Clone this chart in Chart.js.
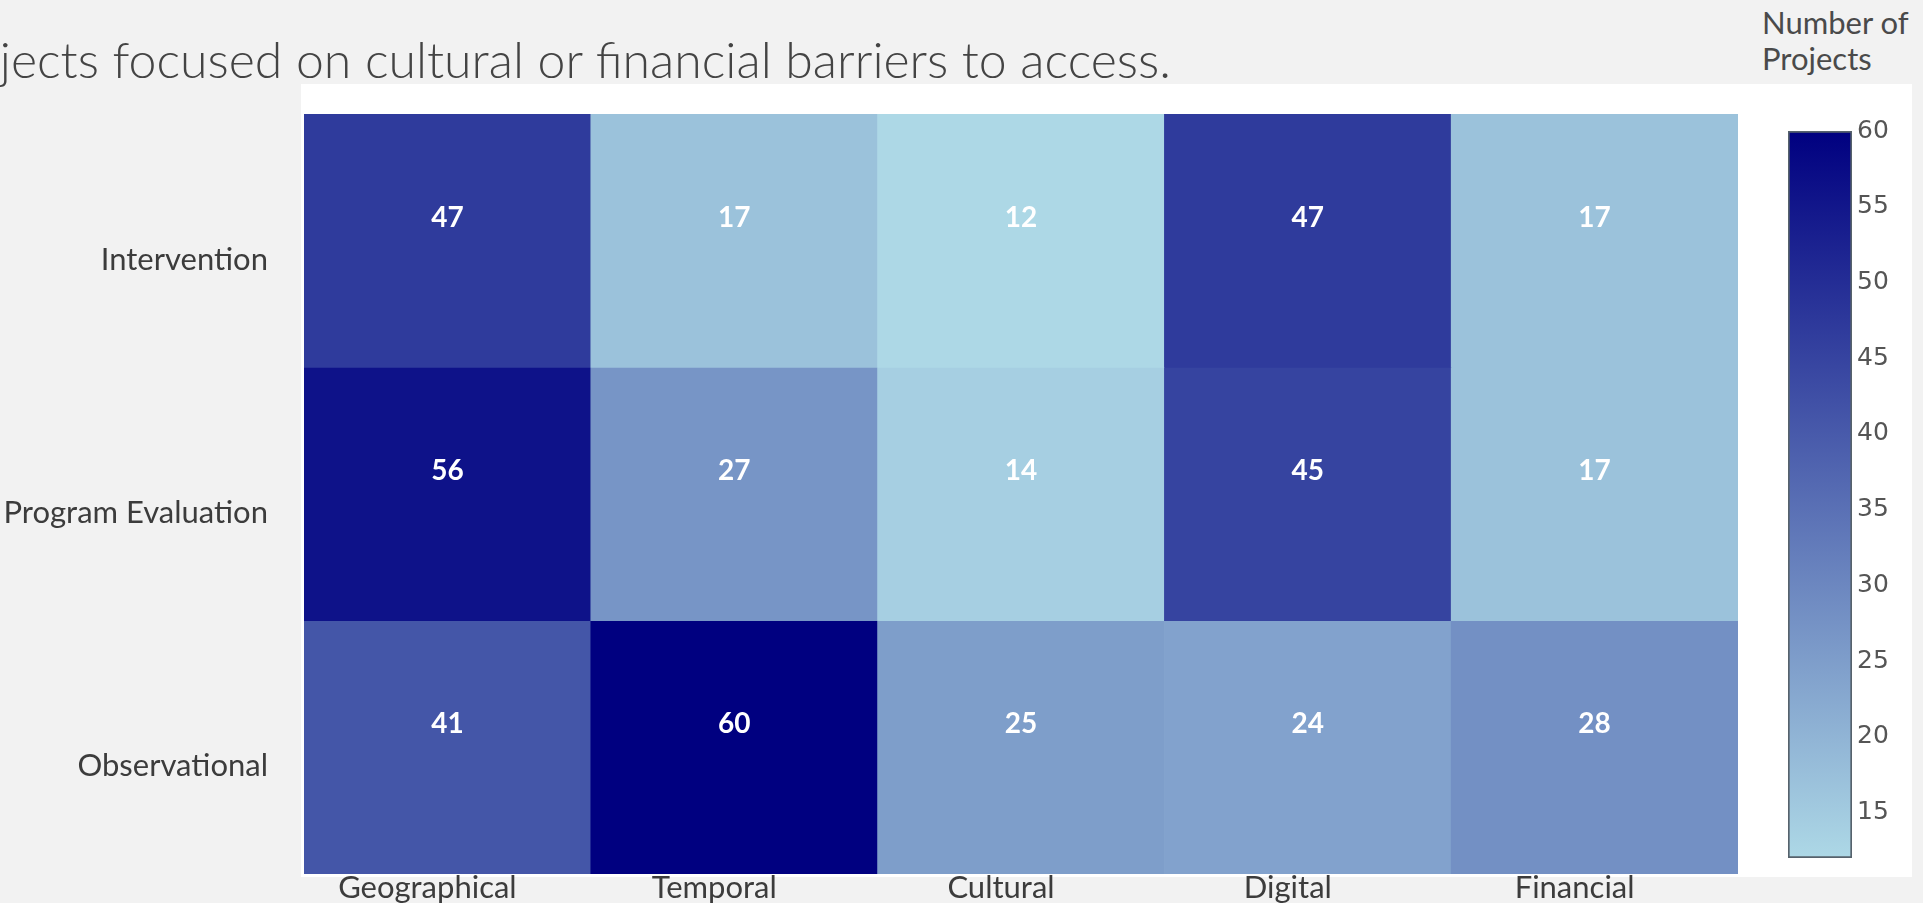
<!DOCTYPE html>
<html>
<head>
<meta charset="utf-8">
<title>Projects by barrier type</title>
<script src="https://cdn.jsdelivr.net/npm/chart.js@4.4.1/dist/chart.umd.min.js"></script>
<style>
  html, body { margin: 0; padding: 0; background: #f2f2f2; overflow: hidden; }
  body { width: 1923px; height: 903px; position: relative; }
  #panel { position: absolute; left: 301px; top: 84px; width: 1611px; height: 793px; background: #fff; }
  #title {
    position: absolute; right: 752px; top: 34px; white-space: nowrap; text-align: right;
    font-family: Lato, 'Open Sans', sans-serif; font-weight: 300; font-size: 50px; line-height: 50px; color: #444;
  }
  #cbTitle {
    position: absolute; left: 1762px; top: 4px;
    font-family: Lato, 'Open Sans', sans-serif; font-size: 31px; line-height: 36px; color: #4a4a4a;
  }
  #heat { position: absolute; left: 0; top: 0; }
  #bar { position: absolute; left: 1700px; top: 0; }
</style>
</head>
<body>
<div id="panel"></div>
<div id="title">projects focused on cultural or financial barriers to access.</div>
<div id="cbTitle">Number of<br>Projects</div>
<canvas id="heat" width="1923" height="903"></canvas>
<canvas id="bar" width="223" height="903"></canvas>
<script>
// Heatmap data: rows are study types, columns are barrier types
const columns = ['Geographical', 'Temporal', 'Cultural', 'Digital', 'Financial'];
const rows = ['Intervention', 'Program Evaluation', 'Observational'];
const intervention = [47, 17, 12, 47, 17];
const programEvaluation = [56, 27, 14, 45, 17];
const observational = [41, 60, 25, 24, 28];
const rowValues = [intervention, programEvaluation, observational];

// Colour scale range and colorbar ticks
const zMin = 12;
const zMax = 60;
const colorTicks = [15, 20, 25, 30, 35, 40, 45, 50, 55, 60];

const labelFont = "Lato, 'Open Sans', sans-serif";
const lowColour = [173, 216, 230]; // lightblue
const highColour = [0, 0, 128];    // navy

function colourFor(v) {
  const t = Math.max(0, Math.min(1, (v - zMin) / (zMax - zMin)));
  const c = lowColour.map((lo, i) => Math.round(lo + (highColour[i] - lo) * t));
  return `rgb(${c[0]},${c[1]},${c[2]})`;
}

// Stop axis labels from pushing the plot area in
function noPadding(scale) {
  scale.paddingTop = 0;
  scale.paddingBottom = 0;
  scale.paddingLeft = 0;
  scale.paddingRight = 0;
}

// One floating-bar dataset per row, row 0 drawn at the top
const datasets = rows.map((name, r) => ({
  label: name,
  data: rowValues[r].map(() => [rows.length - 1 - r, rows.length - r]),
  counts: rowValues[r],
  backgroundColor: rowValues[r].map(colourFor),
  borderWidth: 0,
  borderSkipped: false,
  barPercentage: 1,
  categoryPercentage: 1,
  grouped: false
}));

// Write the count in each cell
const cellLabels = {
  id: 'cellLabels',
  afterDatasetsDraw(chart) {
    const ctx = chart.ctx;
    ctx.save();
    ctx.fillStyle = '#ffffff';
    ctx.font = `bold 28px ${labelFont}`;
    ctx.textAlign = 'center';
    ctx.textBaseline = 'middle';
    chart.data.datasets.forEach((ds, d) => {
      chart.getDatasetMeta(d).data.forEach((el, i) => {
        const mid = (el.y + el.base) / 2;
        ctx.fillText(String(ds.counts[i]), el.x, mid - 23);
      });
    });
    ctx.restore();
  }
};

new Chart(document.getElementById('heat'), {
  type: 'bar',
  data: { labels: columns, datasets: datasets },
  options: {
    responsive: false,
    animation: false,
    layout: { padding: { top: 114, right: 185, left: 0, bottom: 0 } },
    plugins: { legend: { display: false }, tooltip: { enabled: false } },
    scales: {
      x: {
        grid: { display: false, drawTicks: false },
        border: { display: false },
        ticks: { color: '#3c3c3c', font: { family: labelFont, size: 31 }, padding: -5, labelOffset: -20, maxRotation: 0 },
        afterFit(scale) { scale.height = 29; noPadding(scale); }
      },
      y: {
        min: 0,
        max: rows.length,
        grid: { display: false, drawTicks: false },
        border: { display: false },
        afterBuildTicks(scale) {
          scale.ticks = rows.map((_, r) => ({ value: rows.length - 1 - r + 0.5 }));
        },
        ticks: {
          color: '#3c3c3c',
          font: { family: labelFont, size: 31 },
          padding: 36,
          labelOffset: 19,
          callback: (v) => rows[rows.length - 1 - Math.floor(v)]
        },
        afterFit(scale) { scale.width = 304; noPadding(scale); }
      }
    }
  },
  plugins: [cellLabels]
});

// Colorbar drawn as a single floating bar with a gradient fill
new Chart(document.getElementById('bar'), {
  type: 'bar',
  data: {
    labels: [''],
    datasets: [{
      data: [[zMin, zMax]],
      backgroundColor(context) {
        const area = context.chart.chartArea;
        if (!area) return colourFor(zMax);
        const g = context.chart.ctx.createLinearGradient(0, area.bottom, 0, area.top);
        g.addColorStop(0, colourFor(zMin));
        g.addColorStop(1, colourFor(zMax));
        return g;
      },
      borderColor: '#56626c',
      borderWidth: 2,
      borderSkipped: false,
      barPercentage: 1,
      categoryPercentage: 1
    }]
  },
  options: {
    responsive: false,
    animation: false,
    layout: { padding: { top: 131, left: 88, right: 0, bottom: 45 } },
    plugins: { legend: { display: false }, tooltip: { enabled: false } },
    scales: {
      x: { display: false },
      y: {
        position: 'right',
        min: zMin,
        max: zMax,
        grid: { display: false, drawTicks: false },
        border: { display: false },
        afterBuildTicks(scale) {
          scale.ticks = colorTicks.map(v => ({ value: v }));
        },
        ticks: { color: '#555', font: { family: "'DejaVu Sans', Verdana, sans-serif", size: 25 }, padding: 5 },
        afterFit(scale) { scale.width = 71; noPadding(scale); }
      }
    }
  }
});
</script>
</body>
</html>
